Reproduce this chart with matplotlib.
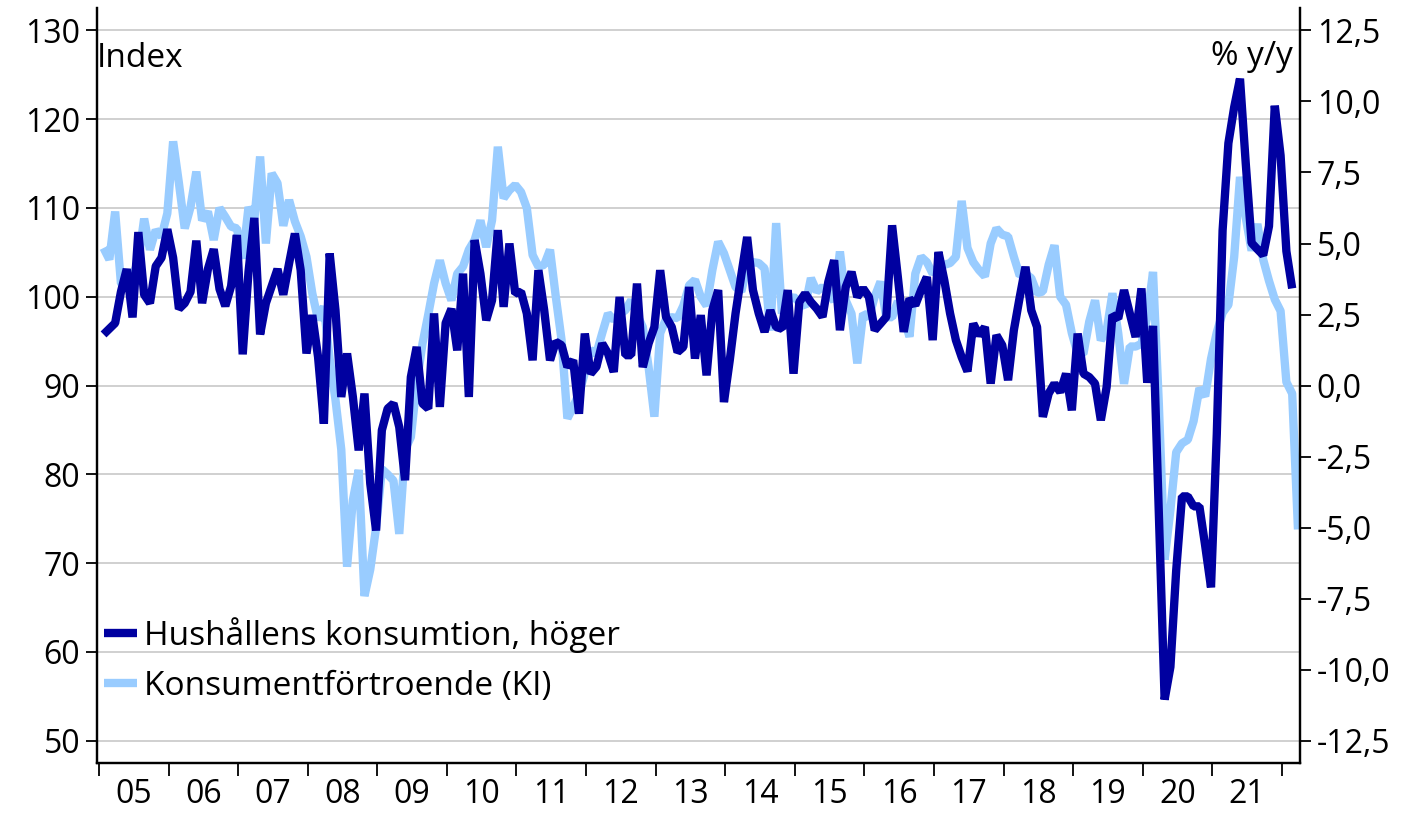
import numpy as np
import matplotlib
matplotlib.use("Agg")
import matplotlib.pyplot as plt
from matplotlib.ticker import FixedLocator, FuncFormatter

plt.rcParams['font.family'] = ['Open Sans', 'DejaVu Sans']

# Monthly data, Jan 2005 onwards
# Hushållens konsumtion, % y/y (right axis), Jan 2005 - Feb 2022
konsumtion = [
    1.8, 2.0, 2.2, 3.3, 4.1, 2.4, 5.4, 3.2, 2.9, 4.2, 4.5, 5.5,
    4.5, 2.7, 2.9, 3.3, 5.1, 2.9, 4.1, 4.8, 3.4, 2.8, 3.5, 5.3,
    1.1, 4.0, 5.9, 1.8, 2.9, 3.5, 4.1, 3.2, 4.3, 5.35, 4.06, 1.13,
    2.48, 1.0, -1.34, 4.65, 2.65, -0.4, 1.13, -0.4, -2.28, -0.28, -3.45, -5.1,
    -1.57, -0.81, -0.63, -1.46, -3.33, 0.3, 1.36, -0.63, -0.81, 2.54, -0.75, 2.2,
    2.7, 1.24, 3.94, -0.4, 5.12, 3.94, 2.3, 3.0, 5.47, 2.77, 5.0, 3.24,
    3.3, 2.54, 0.89, 4.06, 2.65, 0.89, 1.54, 1.42, 0.66, 0.89, -0.99, 1.83,
    0.42, 0.66, 1.48, 1.13, 0.48, 3.12, 1.07, 1.07, 3.59, 0.65, 1.48, 2.06,
    4.06, 2.42, 2.06, 1.18, 1.36, 3.47, 0.95, 2.48, 0.36, 2.65, 3.36, -0.58,
    0.89, 2.54, 3.9, 5.23, 3.36, 2.54, 1.89, 2.65, 2.06, 2.0, 3.36, 0.42,
    2.94, 3.24, 2.94, 2.71, 2.42, 3.65, 4.41, 1.95, 3.47, 4.0, 3.12, 3.42,
    3.12, 1.95, 2.18, 2.42, 5.64, 3.8, 1.89, 3.06, 2.83, 3.36, 3.82, 1.6,
    4.7, 3.71, 2.54, 1.6, 1.0, 0.5, 2.18, 1.77, 2.06, 0.07, 1.77, 1.42,
    0.19, 1.95, 3.1, 4.18, 2.65, 2.06, -1.1, -0.28, 0.07, -0.23, 0.42, -0.87,
    1.83, 0.42, 0.3, 0.07, -1.22, -0.05, 2.48, 2.36, 3.36, 2.54, 1.71, 3.42,
    0.1, 2.1, -4.5, -11.05, -9.9, -6.5, -3.9, -3.9, -4.25, -4.25, -5.64, -7.1,
    -1.7, 5.46, 8.53, 9.8, 10.8, 7.8, 5.02, 4.8, 4.59, 5.61, 9.85, 8.1,
    4.73, 3.42,
]

# Konsumentförtroende (KI), index (left axis), Jan 2005 - Mar 2022
fortroende = [
    105.5, 104.2, 109.6, 101.5, 101.0, 102.3, 104.0, 108.8, 105.3, 107.5, 106.8, 109.4,
    117.5, 112.8, 107.7, 110.1, 114.1, 108.6, 109.6, 106.4, 110.0, 109.0, 107.9, 107.7,
    104.3, 110.1, 108.6, 115.8, 106.0, 113.9, 112.8, 108.0, 110.9, 108.5, 106.8, 104.5,
    100.4, 97.4, 98.9, 93.0, 88.4, 82.8, 69.6, 77.1, 80.5, 66.3, 69.3, 74.0,
    80.6, 80.0, 79.3, 73.3, 82.8, 84.2, 90.2, 94.7, 98.0, 101.5, 104.1, 101.5,
    99.6, 102.6, 103.4, 105.3, 106.4, 108.6, 105.6, 108.6, 116.9, 111.1, 112.0, 112.6,
    111.8, 110.0, 104.7, 103.4, 103.6, 105.3, 100.0, 95.1, 86.3, 87.6, 89.1, 91.4,
    94.0, 93.6, 95.9, 98.1, 97.4, 98.0, 98.5, 99.6, 98.0, 96.6, 92.1, 86.5,
    95.9, 97.5, 97.7, 97.6, 99.0, 101.3, 101.9, 100.0, 99.0, 103.0, 106.2, 104.9,
    103.0, 101.1, 100.6, 103.5, 103.9, 103.8, 103.2, 96.2, 108.3, 98.1, 99.6, 100.0,
    99.4, 98.9, 102.1, 100.6, 101.1, 100.5, 99.5, 105.1, 99.6, 98.1, 92.5, 98.1,
    97.7, 100.0, 101.7, 97.7, 97.7, 99.5, 97.7, 95.5, 102.6, 104.5, 103.9, 102.6,
    103.4, 103.6, 103.8, 104.5, 110.8, 105.5, 103.9, 103.0, 102.3, 106.0, 107.7, 107.0,
    106.8, 104.5, 102.4, 102.6, 102.1, 100.4, 100.6, 103.6, 105.8, 100.0, 99.1, 95.9,
    93.6, 93.6, 97.2, 99.6, 95.1, 96.2, 100.4, 95.9, 90.2, 94.4, 94.4, 94.7,
    97.7, 102.8, 88.0, 70.4, 76.0, 82.5, 83.5, 83.9, 86.0, 89.7, 88.8, 93.0,
    96.0, 98.2, 99.1, 104.5, 113.5, 108.9, 105.2, 108.2, 104.2, 101.8, 99.7, 98.4,
    90.4, 89.1, 73.8,
]

years = list(range(2005, 2023))
year_labels = ['05', '06', '07', '08', '09', '10', '11', '12', '13', '14',
               '15', '16', '17', '18', '19', '20', '21']
left_ticks = [50, 60, 70, 80, 90, 100, 110, 120, 130]
right_ticks = [-12.5, -10.0, -7.5, -5.0, -2.5, 0.0, 2.5, 5.0, 7.5, 10.0, 12.5]

NAVY = '#0000a0'
LIGHT = '#99ccff'
FS = 23      # tick labels
FS_TXT = 24  # legend and axis titles

x_kons = 2005 + (np.arange(len(konsumtion)) + 0.78) / 12
x_fort = 2005 + (np.arange(len(fortroende)) + 0.78) / 12

fig = plt.figure(figsize=(14.09, 8.19), dpi=100)
ax = fig.add_axes([0.0688, 0.0684, 0.8538, 0.9216])
ax2 = ax.twinx()

left_lim = (47.5, 132.5)
ax.set_ylim(left_lim)
# right axis linked to left: right = (left - 90) * 25 / 80
ax2.set_ylim([(v - 90) * 25 / 80 for v in left_lim])
ax.set_xlim(2004.97, 2022.26)

ax.plot(x_fort, fortroende, color=LIGHT, lw=6.0, solid_joinstyle='bevel',
        solid_capstyle='butt', label='Konsumentförtroende (KI)')
ax2.plot(x_kons, konsumtion, color=NAVY, lw=6.0, solid_joinstyle='bevel',
         solid_capstyle='butt', label='Hushållens konsumtion, höger')

ax.yaxis.set_major_locator(FixedLocator(left_ticks))
ax.grid(axis='y', color='#c8c8c8', lw=1.2)
ax.set_axisbelow(True)
ax2.yaxis.set_major_locator(FixedLocator(right_ticks))
ax2.yaxis.set_major_formatter(FuncFormatter(lambda v, p: f'{v:.1f}'.replace('.', ',')))

ax.xaxis.set_major_locator(FixedLocator(years))
ax.xaxis.set_major_formatter(FuncFormatter(lambda v, p: ''))
ax.set_xticks([y + 0.5 for y in years[:-1]], minor=True)
ax.set_xticklabels(year_labels, minor=True)
ax.tick_params(axis='x', which='minor', length=0, pad=11, labelsize=FS)
ax.tick_params(axis='x', which='major', length=9, width=1.3, direction='out')
ax.tick_params(axis='y', length=8, width=1.3, labelsize=FS, pad=4)
ax2.tick_params(axis='y', length=8, width=1.3, labelsize=FS, pad=4)

for a in (ax, ax2):
    a.spines['top'].set_visible(False)
    for s in ('left', 'right', 'bottom'):
        a.spines[s].set_linewidth(1.6)

ax.text(0.0, 0.955, 'Index', transform=ax.transAxes, fontsize=FS_TXT, va='top', ha='left')
ax.text(0.994, 0.958, '% y/y', transform=ax.transAxes, fontsize=FS_TXT, va='top', ha='right')

h1, l1 = ax2.get_legend_handles_labels()
h2, l2 = ax.get_legend_handles_labels()
ax2.legend(h1 + h2, l1 + l2, loc='lower left', bbox_to_anchor=(0.006, 0.08),
           frameon=False, fontsize=FS_TXT, handlelength=1.0, handletextpad=0.2,
           labelspacing=0.5, borderaxespad=0.0, borderpad=0.0)

fig.savefig('out.png', dpi=100)
